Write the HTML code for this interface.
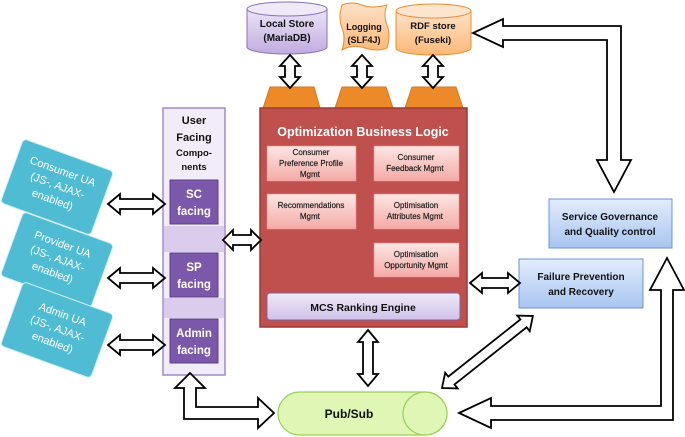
<!DOCTYPE html>
<html><head><meta charset="utf-8"><style>
html,body{margin:0;padding:0;background:#fff;}
svg{display:block;font-family:"Liberation Sans",sans-serif;}
</style></head><body>
<svg width="685" height="437" viewBox="0 0 685 437" xmlns="http://www.w3.org/2000/svg">
<defs>
<linearGradient id="pk" x1="0" y1="0" x2="0" y2="1"><stop offset="0" stop-color="#fce6e4"/><stop offset="1" stop-color="#f4aaa6"/></linearGradient>
<linearGradient id="bl" x1="0" y1="0" x2="0" y2="1"><stop offset="0" stop-color="#e2ecfc"/><stop offset="1" stop-color="#a8c5f0"/></linearGradient>
<linearGradient id="lv" x1="0" y1="0" x2="0" y2="1"><stop offset="0" stop-color="#efe9f8"/><stop offset="1" stop-color="#cfc1ea"/></linearGradient>
<linearGradient id="cy" x1="0" y1="0" x2="0" y2="1"><stop offset="0" stop-color="#ece4f8"/><stop offset="1" stop-color="#c0ace0"/></linearGradient>
<linearGradient id="or" x1="0" y1="0" x2="0" y2="1"><stop offset="0" stop-color="#fde2c8"/><stop offset="1" stop-color="#fbb978"/></linearGradient>
</defs>

<!-- UA boxes -->
<g transform="translate(57,187) rotate(20)"><rect x="-48" y="-34" width="96" height="68" rx="4" fill="#4fbcd4" stroke="#d0eef5"/>
<text fill="#fff" font-size="11" text-anchor="middle"><tspan x="0" y="-13">Consumer UA</tspan><tspan x="0" y="2">(JS-, AJAX-</tspan><tspan x="0" y="17">enabled)</tspan></text></g>
<g transform="translate(57,260) rotate(20)"><rect x="-48" y="-34" width="96" height="68" rx="4" fill="#4fbcd4" stroke="#d0eef5"/>
<text fill="#fff" font-size="11" text-anchor="middle"><tspan x="0" y="-13">Provider UA</tspan><tspan x="0" y="2">(JS-, AJAX-</tspan><tspan x="0" y="17">enabled)</tspan></text></g>
<g transform="translate(57,330) rotate(20)"><rect x="-48" y="-34" width="96" height="68" rx="4" fill="#4fbcd4" stroke="#d0eef5"/>
<text fill="#fff" font-size="11" text-anchor="middle"><tspan x="0" y="-13">Admin UA</tspan><tspan x="0" y="2">(JS-, AJAX-</tspan><tspan x="0" y="17">enabled)</tspan></text></g>

<!-- User facing column -->
<rect x="163" y="108" width="62" height="267" fill="#f1ecf8" stroke="#a08bc6" stroke-width="1.5"/>
<rect x="164" y="226" width="60" height="26" fill="#d9ccec"/>
<rect x="164" y="298" width="60" height="20" fill="#d9ccec"/>
<text font-size="11" font-weight="bold" text-anchor="middle" fill="#111"><tspan x="194" y="124">User</tspan><tspan x="194" y="141">Facing</tspan><tspan x="194" y="156" font-size="9.5">Compo-</tspan><tspan x="194" y="170" font-size="9.5">nents</tspan></text>
<rect x="170" y="180" width="48" height="44" fill="#7b58a9" stroke="#5d3f88"/>
<rect x="170" y="253" width="48" height="44" fill="#7b58a9" stroke="#5d3f88"/>
<rect x="170" y="319" width="48" height="44" fill="#7b58a9" stroke="#5d3f88"/>
<text font-size="11.5" font-weight="bold" text-anchor="middle" fill="#fff"><tspan x="194" y="198">SC</tspan><tspan x="194" y="215">facing</tspan><tspan x="194" y="271">SP</tspan><tspan x="194" y="288">facing</tspan><tspan x="194" y="337">Admin</tspan><tspan x="194" y="354">facing</tspan></text>

<!-- cylinders -->
<path d="M247,9 L247,47 A40,7 0 0 0 327,47 L327,9" fill="url(#cy)" stroke="#8a70b8"/>
<ellipse cx="287" cy="9" rx="40" ry="7" fill="#efe9f8" stroke="#8a70b8"/>
<text font-size="10" font-weight="bold" text-anchor="middle" fill="#111"><tspan x="287" y="27">Local Store</tspan><tspan x="287" y="41">(MariaDB)</tspan></text>
<path d="M342,5 Q352,1 362,5 T387,5 Q383,15 387,25 T387,48 Q377,52 365,48 T342,50 Q346,38 342,28 T342,5 Z" fill="url(#or)" stroke="#eb8c30"/>
<text font-size="9" font-weight="bold" text-anchor="middle" fill="#111"><tspan x="364" y="30">Logging</tspan><tspan x="364" y="43">(SLF4J)</tspan></text>
<path d="M396,11 L396,48 A37.5,7 0 0 0 471,48 L471,11" fill="url(#or)" stroke="#eb8c30"/>
<ellipse cx="433.5" cy="11" rx="37.5" ry="7" fill="#fde4cc" stroke="#eb8c30"/>
<text font-size="9.5" font-weight="bold" text-anchor="middle" fill="#111"><tspan x="433" y="29">RDF store</tspan><tspan x="433" y="43">(Fuseki)</tspan></text>

<!-- trapezoids -->
<polygon points="263,108 270,87 314,87 320,108" fill="#ec8a2a" stroke="#d6781e"/>
<polygon points="335,108 342,87 386,87 393,108" fill="#ec8a2a" stroke="#d6781e"/>
<polygon points="405,108 412,87 456,87 463,108" fill="#ec8a2a" stroke="#d6781e"/>

<!-- red box -->
<rect x="260" y="108" width="207" height="219" fill="#c0504d" stroke="#9b3a37" stroke-width="1.5"/>
<text x="363" y="136" font-size="12.5" font-weight="bold" fill="#fff" text-anchor="middle">Optimization Business Logic</text>
<rect x="267" y="146" width="89" height="35" fill="url(#pk)" stroke="#e8908c" stroke-width="0.6"/>
<rect x="374" y="146" width="85" height="35" fill="url(#pk)" stroke="#e8908c" stroke-width="0.6"/>
<rect x="267" y="194" width="89" height="35" fill="url(#pk)" stroke="#e8908c" stroke-width="0.6"/>
<rect x="374" y="194" width="85" height="35" fill="url(#pk)" stroke="#e8908c" stroke-width="0.6"/>
<rect x="374" y="243" width="85" height="34" fill="url(#pk)" stroke="#e8908c" stroke-width="0.6"/>
<text font-size="8" text-anchor="middle" fill="#222" stroke="#222" stroke-width="0.2">
<tspan x="311" y="155">Consumer</tspan><tspan x="311" y="166">Preference Profile</tspan><tspan x="311" y="177">Mgmt</tspan>
<tspan x="416" y="160">Consumer</tspan><tspan x="416" y="171">Feedback Mgmt</tspan>
<tspan x="311" y="208">Recommendations</tspan><tspan x="311" y="219">Mgmt</tspan>
<tspan x="416" y="208">Optimisation</tspan><tspan x="416" y="219">Attributes Mgmt</tspan>
<tspan x="416" y="257">Optimisation</tspan><tspan x="416" y="268">Opportunity Mgmt</tspan>
</text>
<rect x="267" y="293" width="193" height="27" rx="3" fill="url(#lv)" stroke="#8064a2"/>
<text x="363" y="311" font-size="10.5" font-weight="bold" text-anchor="middle" fill="#111">MCS Ranking Engine</text>

<!-- blue boxes -->
<rect x="549" y="199" width="123" height="49" fill="url(#bl)" stroke="#6b93d6"/>
<text font-size="10" font-weight="bold" text-anchor="middle" fill="#111"><tspan x="610" y="220">Service Governance</tspan><tspan x="610" y="235">and Quality control</tspan></text>
<rect x="519" y="259" width="124" height="49" fill="url(#bl)" stroke="#6b93d6"/>
<text font-size="10" font-weight="bold" text-anchor="middle" fill="#111"><tspan x="581" y="280">Failure Prevention</tspan><tspan x="581" y="295">and Recovery</tspan></text>

<!-- pub/sub -->
<rect x="278" y="392" width="169" height="43" rx="21.5" fill="#e0f6b4" stroke="#9ccf5a" stroke-width="1.2"/>
<ellipse cx="425" cy="413.5" rx="22" ry="21.5" fill="#e0f6b4" stroke="#9ccf5a" stroke-width="1.2"/>
<text x="349" y="418" font-size="12" font-weight="bold" text-anchor="middle" fill="#111">Pub/Sub</text>

<!-- arrows -->
<g fill="#fff" stroke="#000" stroke-width="1.8" stroke-linejoin="miter">
<path d="M108,204 L120,194 L120,199 L153,199 L153,194 L165,204 L153,214 L153,209 L120,209 L120,214 Z"/>
<path d="M108,278 L120,268 L120,273 L153,273 L153,268 L165,278 L153,288 L153,283 L120,283 L120,288 Z"/>
<path d="M108,345 L120,335 L120,340 L153,340 L153,335 L165,345 L153,355 L153,350 L120,350 L120,355 Z"/>
<path d="M223,240 L233,230 L233,235 L251,235 L251,230 L261,240 L251,250 L251,245 L233,245 L233,250 Z"/>
<path d="M470,283 L482,273 L482,278 L508,278 L508,273 L520,283 L508,293 L508,288 L482,288 L482,293 Z"/>
<path d="M290,55 L300,66 L295,66 L295,77 L300,77 L290,88 L280,77 L285,77 L285,66 L280,66 Z"/>
<path d="M362,55 L372,66 L367,66 L367,77 L372,77 L362,88 L352,77 L357,77 L357,66 L352,66 Z"/>
<path d="M433,55 L443,66 L438,66 L438,77 L443,77 L433,88 L423,77 L428,77 L428,66 L423,66 Z"/>
<path d="M368,330 L378,342 L373,342 L373,374 L378,374 L368,386 L358,374 L363,374 L363,342 L358,342 Z"/>
<g transform="translate(442,388) rotate(-38.4)"><path d="M0,0 L12,-10 L12,-5 L104,-5 L104,-10 L116,0 L104,10 L104,5 L12,5 L12,10 Z"/></g>
<path d="M473,33 L503,19 L503,26 L621,26 L621,160 L631,160 L614,192 L597,160 L607,160 L607,40 L503,40 L503,47 Z"/>
<path d="M459,413 L491,398 L491,406 L661,406 L661,290 L650,290 L667,258 L684,290 L673,290 L673,420 L491,420 L491,428 Z"/>
<path d="M190,373 L205,388 L196,388 L196,407 L258,407 L258,398 L274,413 L258,428 L258,419 L184,419 L184,388 L175,388 Z"/>
</g>
</svg>
</body></html>
